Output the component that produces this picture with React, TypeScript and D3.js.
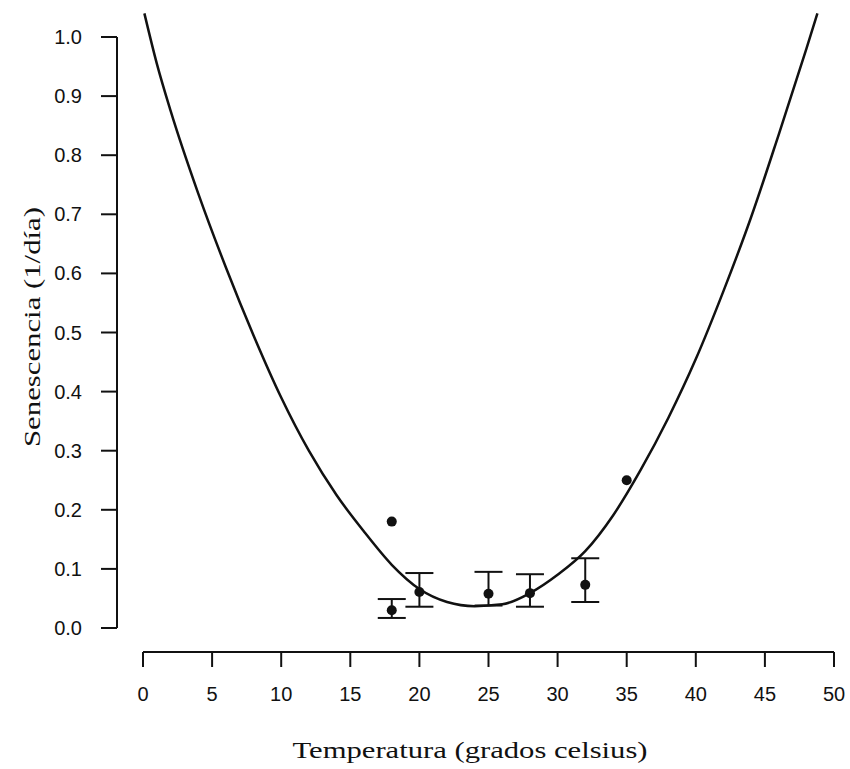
import React from "react";
import * as d3 from "d3";

const xTicks = [0, 5, 10, 15, 20, 25, 30, 35, 40, 45, 50];
const yTicks = [0, 0.1, 0.2, 0.3, 0.4, 0.5, 0.6, 0.7, 0.8, 0.9, 1.0];

// Fitted curve
const curveX = [0.1, 1, 2, 4, 6, 8, 10, 12, 14, 16, 18, 20, 22, 24, 26, 28, 30, 32, 34, 36, 38, 40, 42, 44, 46, 48, 48.8];
const curveY = [1.04, 0.955, 0.875, 0.735, 0.61, 0.495, 0.39, 0.3, 0.225, 0.163, 0.107, 0.066, 0.044, 0.037, 0.04, 0.059, 0.09, 0.13, 0.19, 0.267, 0.355, 0.455, 0.57, 0.695, 0.835, 0.98, 1.04];

// Observations with error bars
const errX = [18, 20, 25, 28, 32];
const errMean = [0.03, 0.061, 0.058, 0.059, 0.073];
const errLow = [0.017, 0.036, 0.038, 0.036, 0.044];
const errHigh = [0.049, 0.093, 0.095, 0.091, 0.118];

// Single points
const ptX = [18, 35];
const ptY = [0.18, 0.25];

const W = 850;
const H = 769;

export default function App() {
  const x = d3.scaleLinear().domain([0, 50]).range([143, 834]);
  const y = d3.scaleLinear().domain([0, 1]).range([628, 37]);
  const line = d3
    .line<number>()
    .x((_, i) => x(curveX[i]))
    .y((d) => y(d))
    .curve(d3.curveMonotoneX);

  const axisX = 117;
  const axisY = 652;
  const tickFont = "'Liberation Sans', Arial, sans-serif";
  const titleFont = "'Liberation Serif', 'Times New Roman', serif";
  const ink = "#111";

  return (
    <svg
      width={W}
      height={H}
      style={{ position: "absolute", left: 0, top: 0, background: "#fff" }}
    >
      <rect x={0} y={0} width={W} height={H} fill="#fff" />
      {/* Y axis */}
      <line x1={axisX} x2={axisX} y1={y(0)} y2={y(1)} stroke={ink} strokeWidth={2} />
      {yTicks.map((t) => (
        <g key={"y" + t}>
          <line x1={axisX - 16} x2={axisX} y1={y(t)} y2={y(t)} stroke={ink} strokeWidth={2} />
          <text
            x={82}
            y={y(t)}
            dy="0.35em"
            textAnchor="end"
            fontFamily={tickFont}
            fontSize={20}
            fill={ink}
          >
            {t.toFixed(1)}
          </text>
        </g>
      ))}
      {/* X axis */}
      <line x1={x(0)} x2={x(50)} y1={axisY} y2={axisY} stroke={ink} strokeWidth={2} />
      {xTicks.map((t) => (
        <g key={"x" + t}>
          <line x1={x(t)} x2={x(t)} y1={axisY} y2={axisY + 15} stroke={ink} strokeWidth={2} />
          <text
            x={x(t)}
            y={701}
            textAnchor="middle"
            fontFamily={tickFont}
            fontSize={20}
            fill={ink}
          >
            {t}
          </text>
        </g>
      ))}
      {/* Titles */}
      <text
        x={470}
        y={758}
        textAnchor="middle"
        fontFamily={titleFont}
        fontSize={24}
        textLength={355}
        lengthAdjust="spacingAndGlyphs"
        fill={ink}
      >
        Temperatura (grados celsius)
      </text>
      <text
        transform={`translate(40, 327) rotate(-90)`}
        textAnchor="middle"
        fontFamily={titleFont}
        fontSize={24}
        textLength={240}
        lengthAdjust="spacingAndGlyphs"
        fill={ink}
      >
        Senescencia (1/día)
      </text>
      {/* Curve */}
      <path d={line(curveY) || ""} fill="none" stroke={ink} strokeWidth={2.5} />
      {/* Error bars */}
      {errX.map((v, i) => (
        <g key={"e" + i}>
          <line x1={x(v)} x2={x(v)} y1={y(errLow[i])} y2={y(errHigh[i])} stroke={ink} strokeWidth={2} />
          <line x1={x(v) - 14} x2={x(v) + 14} y1={y(errLow[i])} y2={y(errLow[i])} stroke={ink} strokeWidth={2} />
          <line x1={x(v) - 14} x2={x(v) + 14} y1={y(errHigh[i])} y2={y(errHigh[i])} stroke={ink} strokeWidth={2} />
          <circle cx={x(v)} cy={y(errMean[i])} r={5} fill={ink} />
        </g>
      ))}
      {ptX.map((v, i) => (
        <circle key={"p" + i} cx={x(v)} cy={y(ptY[i])} r={5} fill={ink} />
      ))}
    </svg>
  );
}
